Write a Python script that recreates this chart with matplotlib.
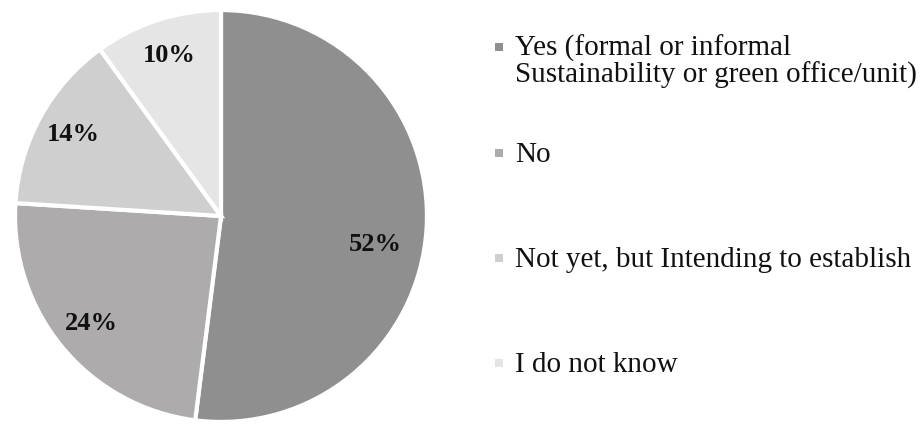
import matplotlib
matplotlib.use('Agg')
import matplotlib.pyplot as plt
from matplotlib.patches import Rectangle

labels = ['Yes (formal or informal\nSustainability or green office/unit)',
          'No',
          'Not yet, but Intending to establish',
          'I do not know']
shares = [52, 24, 14, 10]
colors = ['#8f8f8f', '#adabab', '#d0cfd0', '#e6e5e6']

W, H = 922, 424
legend_base = [56, 162, 267, 372]  # pixel rows (from top) of first-line baselines

plt.rcParams['font.family'] = ['Liberation Serif', 'DejaVu Serif']

fig = plt.figure(figsize=(W/100, H/100), dpi=100)
ax = fig.add_axes([13/W, 0.0, 416/W, 416/H])

wedges, texts, autotexts = ax.pie(
  shares, colors=colors, startangle=90, counterclock=False,
  autopct='%d%%', pctdistance=0.82,
  wedgeprops=dict(edgecolor='white', linewidth=3),
  textprops=dict(fontsize=19, fontweight='bold', color='#111111'))
# the big slice label sits a little lower in the original
autotexts[0].set_position((0.75, -0.14))
ax.set_xlim(-1.01, 1.01)
ax.set_ylim(-1.01, 1.01)
ax.set_aspect('equal')

# legend drawn by hand to match the spacing of the original
sq = 8
for lab, col, yb in zip(labels, colors, legend_base):
  yc = yb - 9
  fig.add_artist(Rectangle(((499 - sq/2)/W, (H - yc - sq/2)/H), sq/W, sq/H,
                           transform=fig.transFigure, facecolor=col, edgecolor='none'))
  for i, line in enumerate(lab.split('\n')):
    fig.text(515/W, (H - yb - i*27)/H, line, fontsize=21, ha='left',
             va='baseline', color='#111111')

fig.savefig('out.png', dpi=100)
